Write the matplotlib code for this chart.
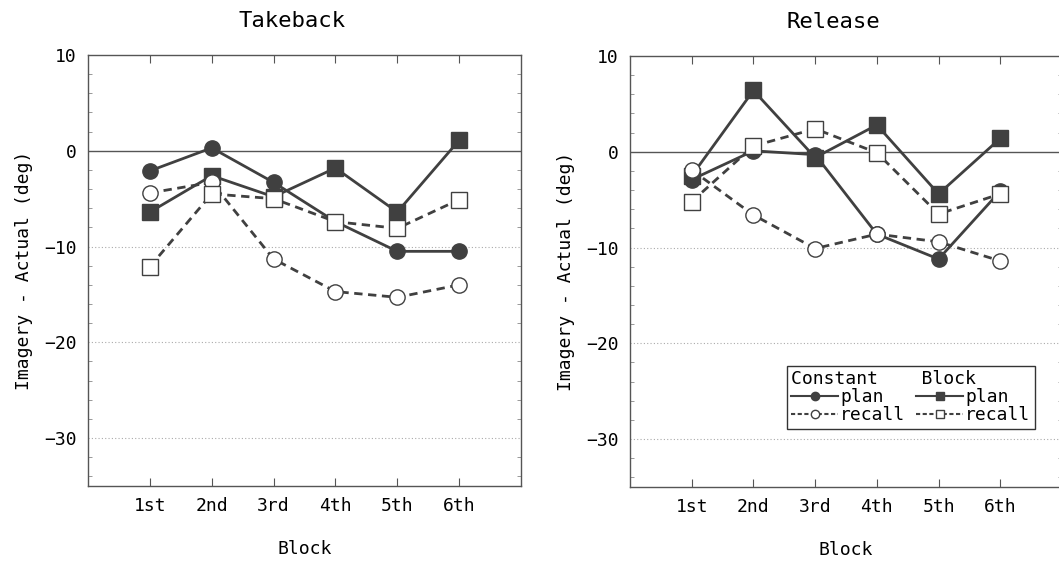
import matplotlib.pyplot as plt
from matplotlib.lines import Line2D
from matplotlib.ticker import MultipleLocator

plt.rcParams['font.family'] = ['DejaVu Sans Mono']

# Data
blocks = ['1st', '2nd', '3rd', '4th', '5th', '6th']
x = [1, 2, 3, 4, 5, 6]

take_const_plan = [-2.1, 0.3, -3.3, -7.4, -10.5, -10.5]
take_const_recall = [-4.4, -3.3, -11.3, -14.7, -15.3, -14.0]
take_block_plan = [-6.4, -2.6, -4.8, -1.8, -6.4, 1.1]
take_block_recall = [-12.1, -4.5, -5.0, -7.4, -8.1, -5.1]

rel_const_plan = [-2.9, 0.1, -0.3, -8.6, -11.2, -4.1]
rel_const_recall = [-1.9, -6.6, -10.1, -8.6, -9.4, -11.4]
rel_block_plan = [-2.5, 6.4, -0.6, 2.8, -4.4, 1.4]
rel_block_recall = [-5.2, 0.6, 2.4, -0.1, -6.5, -4.4]

dark = '#404040'
fs = 13

fig = plt.figure(figsize=(10.59, 5.62), dpi=100)
W, H = 1059, 562
ax1 = fig.add_axes([88 / W, (H - 486) / H, 433 / W, 431 / H])
ax2 = fig.add_axes([630 / W, (H - 487) / H, 432 / W, 431 / H])


def draw(ax, cp, cr, bp, br, title):
    ax.axhline(0, color='#555555', lw=1.0, zorder=1)
    for yv in [-10, -20, -30]:
        ax.axhline(yv, color='#aaaaaa', lw=0.8, ls=(0, (1, 2)), zorder=1)
    ax.plot(x, cr, ls=(0, (3, 2)), color=dark, lw=2.0, marker='o', ms=11,
            mfc='white', mec=dark, mew=1.0, zorder=3)
    ax.plot(x, br, ls=(0, (3, 2)), color=dark, lw=2.0, marker='s', ms=11.5,
            mfc='white', mec=dark, mew=1.0, zorder=3)
    ax.plot(x, cp, ls='-', color=dark, lw=2.0, marker='o', ms=11,
            mfc=dark, mec=dark, zorder=2)
    ax.plot(x, bp, ls='-', color=dark, lw=2.0, marker='s', ms=11.5,
            mfc=dark, mec=dark, zorder=2)
    ax.set_xlim(0, 7)
    ax.set_ylim(-35, 10)
    ax.set_xticks(x)
    ax.set_xticklabels(blocks, fontsize=fs)
    ax.set_yticks([10, 0, -10, -20, -30])
    ax.yaxis.set_minor_locator(MultipleLocator(2))
    ax.tick_params(axis='x', direction='in', length=6, top=True, pad=8,
                   color='#555555')
    ax.tick_params(axis='y', which='major', direction='in', length=0, pad=8,
                   labelsize=fs)
    ax.tick_params(axis='y', which='minor', direction='in', length=3,
                   right=True, color='#888888')
    for s in ax.spines.values():
        s.set_color('#555555')
        s.set_linewidth(1.0)
    ax.set_title(title, fontsize=16, x=0.47, pad=20)
    ax.set_xlabel('Block', fontsize=fs, labelpad=18)
    ax.set_ylabel('Imagery - Actual (deg)', fontsize=fs, labelpad=8)


draw(ax1, take_const_plan, take_const_recall, take_block_plan,
     take_block_recall, 'Takeback')
draw(ax2, rel_const_plan, rel_const_recall, rel_block_plan,
     rel_block_recall, 'Release')

handles = [
    Line2D([], [], color=dark, lw=1.5, marker='o', ms=6, mfc=dark),
    Line2D([], [], color=dark, lw=1.5, ls=(0, (2, 1.2)), marker='o', ms=6,
           mfc='white'),
    Line2D([], [], color=dark, lw=1.5, marker='s', ms=6, mfc=dark),
    Line2D([], [], color=dark, lw=1.5, ls=(0, (2, 1.2)), marker='s', ms=6,
           mfc='white'),
]
leg = ax2.legend(handles, ['plan', 'recall', 'plan', 'recall'], ncol=2,
                 title='Constant    Block', alignment='left',
                 loc='lower left', bbox_to_anchor=(0.363, 0.135),
                 fontsize=fs, title_fontsize=fs, frameon=True, fancybox=False,
                 edgecolor='#333333', framealpha=1, borderpad=0.25,
                 labelspacing=0.0, handlelength=2.6, handletextpad=0.1,
                 columnspacing=0.6, borderaxespad=0)
leg.get_frame().set_linewidth(1.0)

fig.savefig('out.png', dpi=100)
